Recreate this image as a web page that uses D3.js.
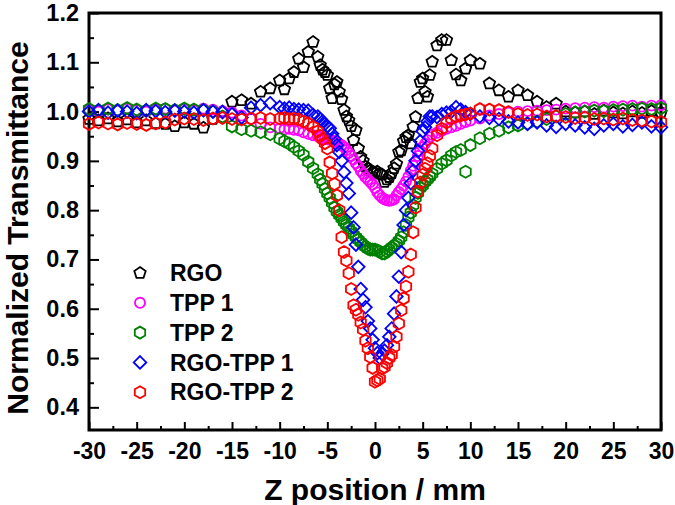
<!DOCTYPE html>
<html>
<head>
<meta charset="utf-8">
<script src="https://cdn.jsdelivr.net/npm/d3@7"></script>
<style>
  body { margin: 0; background: #fff; }
  svg text { font-family: "Liberation Sans", Arial, sans-serif; font-weight: bold; fill: #000; }
</style>
</head>
<body>
<div id="chart"></div>
<script>
// Z positions (mm), shared by all five scans
const zPos = [
  -30, -29, -28, -27, -26, -25, -24, -23, -22, -21, -20, -19, -18, -17, -16, -15, -14, -13, -12, -11, -10,
  -9.5, -9, -8.5, -8, -7.5, -7, -6.5,
  -6, -5.75, -5.5, -5.25, -5, -4.75, -4.5, -4.25, -4, -3.75, -3.5, -3.25, -3,
  -2.75, -2.5, -2.25, -2, -1.75, -1.5, -1.25, -1, -0.75, -0.5, -0.25, 0,
  0.25, 0.5, 0.75, 1, 1.25, 1.5, 1.75, 2, 2.25, 2.5, 2.75, 3,
  3.25, 3.5, 3.75, 4, 4.25, 4.5, 4.75, 5, 5.25, 5.5, 5.75, 6,
  6.5, 7, 7.5, 8, 8.5, 9, 9.5,
  10, 11, 12, 13, 14, 15, 16, 17, 18, 19, 20, 21, 22, 23, 24, 25, 26, 27, 28, 29, 30
];

const rgo = [
  0.985, 0.982, 0.986, 0.980, 0.984, 0.978, 0.982, 0.976, 0.975, 0.970, 0.978, 0.975, 0.967, 0.985, 1.000, 1.020, 1.023, 1.016, 1.040, 1.047, 1.063,
  1.045, 1.067, 1.080, 1.107, 1.090, 1.121, 1.141,
  1.111, 1.094, 1.085, 1.080, 1.074, 1.047, 1.027, 1.055, 1.060, 1.040, 1.025, 1.003, 0.990,
  0.982, 0.970, 0.942, 0.962, 0.925, 0.908, 0.900, 0.888, 0.885, 0.880, 0.877, 0.876,
  0.878, 0.874, 0.872, 0.857, 0.862, 0.867, 0.875, 0.885, 0.894, 0.918, 0.921, 0.940,
  0.948, 0.952, 0.935, 0.969, 0.989, 1.027, 1.060, 1.067, 1.040, 1.030, 1.074, 1.101,
  1.134, 1.145, 1.145, 1.104, 1.075, 1.063, 1.087,
  1.104, 1.097, 1.057, 1.043, 1.030, 1.043, 1.033, 1.020, 1.009, 1.016, 1.000, 0.998, 1.000, 0.995, 1.002, 0.998, 0.996, 1.000, 0.997, 1.001, 0.998
];

const tpp1 = [
  1.004, 1.000, 1.005, 1.002, 1.006, 1.003, 1.000, 1.004, 1.006, 1.002, 1.005, 1.003, 1.006, 1.004, 1.001, 0.998, 0.992, 0.985, 0.975, 0.968, 0.966,
  0.964, 0.965, 0.963, 0.962, 0.958, 0.955, 0.952,
  0.950, 0.948, 0.946, 0.945, 0.944, 0.943, 0.942, 0.940, 0.937, 0.935, 0.932, 0.928, 0.922,
  0.916, 0.910, 0.903, 0.895, 0.889, 0.880, 0.874, 0.867, 0.862, 0.857, 0.852, 0.845,
  0.836, 0.830, 0.825, 0.822, 0.820, 0.819, 0.820, 0.822, 0.830, 0.837, 0.843, 0.850,
  0.858, 0.868, 0.880, 0.890, 0.898, 0.910, 0.920, 0.928, 0.935, 0.942, 0.948, 0.953,
  0.957, 0.961, 0.965, 0.968, 0.971, 0.975, 0.979,
  0.982, 0.986, 0.992, 0.995, 0.998, 1.000, 1.001, 1.002, 1.003, 1.004, 1.006, 1.007, 1.008, 1.009, 1.008, 1.010, 1.011, 1.012, 1.010, 1.012, 1.013
];

const tpp2 = [
  1.005, 1.002, 1.006, 1.003, 1.007, 1.004, 1.002, 1.006, 1.005, 1.003, 1.006, 1.004, 1.003, 1.000, 0.990, 0.970, 0.964, 0.961, 0.958, 0.954, 0.945,
  0.940, 0.935, 0.928, 0.920, 0.912, 0.898, 0.885,
  0.873, 0.862, 0.853, 0.843, 0.834, 0.825, 0.815, 0.805, 0.797, 0.790, 0.783, 0.776, 0.770,
  0.764, 0.757, 0.750, 0.745, 0.740, 0.735, 0.730, 0.726, 0.722, 0.720, 0.720, 0.720,
  0.718, 0.716, 0.712, 0.712, 0.716, 0.720, 0.724, 0.728, 0.732, 0.738, 0.745, 0.755,
  0.770, 0.785, 0.795, 0.810, 0.825, 0.835, 0.845, 0.850, 0.857, 0.862, 0.868, 0.874,
  0.884, 0.894, 0.901, 0.911, 0.918, 0.922, 0.878,
  0.932, 0.946, 0.955, 0.961, 0.968, 0.972, 0.976, 0.980, 0.985, 0.990, 0.995, 0.998, 1.000, 1.002, 1.001, 1.003, 1.004, 1.005, 1.006, 1.005, 1.007
];

const rgoTpp1 = [
  1.000, 1.003, 0.998, 1.002, 1.000, 0.997, 1.003, 1.001, 0.999, 1.002, 1.000, 0.998, 1.003, 1.000, 0.999, 0.995, 0.988, 1.008, 1.013, 1.017, 1.009,
  1.006, 1.008, 1.005, 1.004, 1.003, 1.002, 0.993,
  0.990, 0.985, 0.980, 0.975, 0.970, 0.966, 0.955, 0.945, 0.932, 0.918, 0.900, 0.877, 0.855,
  0.834, 0.795, 0.765, 0.730, 0.685, 0.640, 0.618, 0.603, 0.575, 0.560, 0.537, 0.520,
  0.510, 0.500, 0.508, 0.515, 0.526, 0.543, 0.560, 0.590, 0.625, 0.665, 0.715, 0.770,
  0.800, 0.825, 0.855, 0.880, 0.900, 0.920, 0.940, 0.960, 0.968, 0.980, 0.990, 0.990,
  0.989, 0.995, 0.998, 1.000, 1.009, 1.004, 0.999,
  0.995, 0.990, 0.987, 0.985, 0.980, 0.978, 0.975, 0.978, 0.972, 0.969, 0.975, 0.972, 0.968, 0.965, 0.972, 0.975, 0.970, 0.973, 0.978, 0.970, 0.968
];

const rgoTpp2 = [
  0.975, 0.978, 0.976, 0.974, 0.977, 0.975, 0.973, 0.976, 0.978, 0.984, 0.986, 0.985, 0.983, 0.986, 0.987, 0.985, 0.984, 0.986, 0.987, 0.985, 0.986,
  0.987, 0.985, 0.986, 0.984, 0.980, 0.976, 0.969,
  0.960, 0.951, 0.944, 0.936, 0.925, 0.897, 0.875, 0.853, 0.830, 0.800, 0.745, 0.715, 0.698,
  0.672, 0.640, 0.607, 0.598, 0.588, 0.572, 0.558, 0.535, 0.520, 0.502, 0.480, 0.452,
  0.455, 0.458, 0.479, 0.482, 0.490, 0.500, 0.506, 0.523, 0.543, 0.570, 0.597, 0.621,
  0.645, 0.675, 0.710, 0.755, 0.805, 0.838, 0.856, 0.872, 0.884, 0.895, 0.910, 0.925,
  0.952, 0.965, 0.978, 0.986, 0.990, 0.992, 0.994,
  0.996, 1.005, 1.004, 1.003, 0.999, 0.995, 0.993, 0.994, 0.990, 0.991, 0.989, 0.987, 0.988, 0.985, 0.986, 0.984, 0.986, 0.983, 0.982, 0.980, 0.979
];

const seriesNames = ['RGO', 'TPP 1', 'TPP 2', 'RGO-TPP 1', 'RGO-TPP 2'];
const xTicks = [-30, -25, -20, -15, -10, -5, 0, 5, 10, 15, 20, 25, 30];
const yTicks = [0.4, 0.5, 0.6, 0.7, 0.8, 0.9, 1.0, 1.1, 1.2];

const width = 675, height = 505;
const margin = { top: 13, right: 14, bottom: 75, left: 89 };
const w = width - margin.left - margin.right;
const h = height - margin.top - margin.bottom;

// open polygon marker centred on 0,0
function polygon(n, r, rot){
  const pts = d3.range(n).map(i => {
    const a = rot + i * 2 * Math.PI / n;
    return [r * Math.sin(a), -r * Math.cos(a)];
  });
  return 'M' + pts.map(p => p.join(',')).join('L') + 'Z';
}

const markers = {
  'RGO':       { color: '#000000', path: polygon(5, 6, 0) },
  'TPP 1':     { color: '#ff00ff', path: d3.symbol(d3.symbolCircle, 80)() },
  'TPP 2':     { color: '#008000', path: polygon(6, 6, 0) },
  'RGO-TPP 1': { color: '#0000ff', path: polygon(4, 6.3, 0) },
  'RGO-TPP 2': { color: '#ff0000', path: polygon(6, 6, 0) }
};

const series = [
  { name: 'RGO', values: rgo },
  { name: 'TPP 1', values: tpp1 },
  { name: 'TPP 2', values: tpp2 },
  { name: 'RGO-TPP 1', values: rgoTpp1 },
  { name: 'RGO-TPP 2', values: rgoTpp2 }
];

const svg = d3.select('#chart').append('svg')
  .attr('width', width).attr('height', height);
const g = svg.append('g').attr('transform', `translate(${margin.left},${margin.top})`);

const x = d3.scaleLinear().domain([-30, 30]).range([0, w]);
const y = d3.scaleLinear().domain([0.354, 1.2]).range([h, 0]);

// minor ticks
g.append('g').attr('transform', `translate(0,${h})`)
  .call(d3.axisBottom(x).tickValues(d3.range(-27.5, 30, 5)).tickSize(-4).tickFormat(''))
  .call(a => a.select('.domain').remove())
  .call(a => a.selectAll('line').attr('stroke-width', 2));
g.append('g')
  .call(d3.axisLeft(y).tickValues(d3.range(0.45, 1.2, 0.1)).tickSize(-5).tickFormat(''))
  .call(a => a.select('.domain').remove())
  .call(a => a.selectAll('line').attr('stroke-width', 2));

// major ticks + labels (plain hyphen for negatives, as in the original)
g.append('g').attr('transform', `translate(0,${h})`)
  .call(d3.axisBottom(x).tickValues(xTicks).tickSize(-8).tickPadding(13).tickFormat(d => String(d)))
  .call(a => a.select('.domain').remove())
  .call(a => a.selectAll('line').attr('stroke-width', 2))
  .call(a => a.selectAll('text').attr('font-size', 23));
g.append('g')
  .call(d3.axisLeft(y).tickValues(yTicks).tickSize(-10).tickPadding(10).tickFormat(d3.format('.1f')))
  .call(a => a.select('.domain').remove())
  .call(a => a.selectAll('line').attr('stroke-width', 2))
  .call(a => a.selectAll('text').attr('font-size', 23.5));

// frame
g.append('rect').attr('width', w).attr('height', h)
  .attr('fill', 'none').attr('stroke', '#000').attr('stroke-width', 3);

// data points
series.forEach(s => {
  const m = markers[s.name];
  g.append('g').selectAll('path')
    .data(zPos.map((z, i) => ({ z, t: s.values[i] })))
    .join('path')
    .attr('d', m.path)
    .attr('transform', d => `translate(${x(d.z)},${y(d.t)})`)
    .attr('fill', 'none')
    .attr('stroke', m.color)
    .attr('stroke-width', 1.8);
});

// legend
const legend = g.append('g').attr('transform', `translate(${140 - margin.left},${273 - margin.top})`);
seriesNames.forEach((name, i) => {
  const row = legend.append('g').attr('transform', `translate(0,${i * 29.8})`);
  row.append('path').attr('d', markers[name].path)
    .attr('fill', 'none').attr('stroke', markers[name].color).attr('stroke-width', 1.8);
  row.append('text').attr('x', 30).attr('dy', '0.36em').attr('font-size', 23).text(name);
});

// axis titles
svg.append('text')
  .attr('x', margin.left + w / 2).attr('y', 500)
  .attr('text-anchor', 'middle').attr('font-size', 30)
  .text('Z position / mm');
svg.append('text')
  .attr('transform', `translate(28,228) rotate(-90)`)
  .attr('text-anchor', 'middle').attr('font-size', 30)
  .text('Normalized Transmittance');
</script>
</body>
</html>
